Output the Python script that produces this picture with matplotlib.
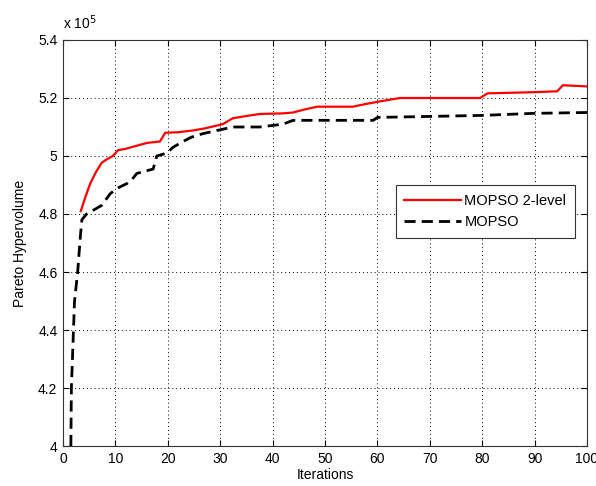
import matplotlib.pyplot as plt
from matplotlib.ticker import FuncFormatter

plt.rcParams['font.family'] = ['Liberation Sans', 'DejaVu Sans']

# MOPSO 2-level (values in units of 1e5)
iter_2level = [3.4, 4.3, 5.2, 6.3, 7.4, 8.5, 9.5, 10.0, 10.5, 12, 14, 16, 18.5, 19.5, 22, 24.8,
               27, 29.4, 30.5, 32.4, 35, 37.6, 42, 43.9, 46, 48.5, 55.3, 58, 61, 64.3,
               79.6, 81, 89.7, 94.3, 95.4, 100]
hv_2level = [4.81, 4.86, 4.905, 4.945, 4.977, 4.99, 5.0, 5.01, 5.02, 5.025, 5.035, 5.045, 5.05, 5.08, 5.082, 5.088,
             5.095, 5.105, 5.11, 5.13, 5.138, 5.145, 5.147, 5.15, 5.16, 5.17, 5.17, 5.18, 5.19, 5.2,
             5.2, 5.216, 5.22, 5.223, 5.244, 5.24]

# MOPSO
iter_mopso = [1.5, 1.6, 2.0, 2.2, 2.8, 3.3, 3.6, 4.5, 5.5, 7.4, 8.2, 9.0, 10.5, 12.2, 13.2, 14.1, 17.2,
              17.9, 19.8, 21, 22.9, 24.5, 26.7, 29.4, 32.4, 37.6, 42, 43.9, 59.2, 60, 80, 89.7, 100]
hv_mopso = [4.0, 4.2, 4.4, 4.5, 4.6, 4.72, 4.78, 4.8, 4.81, 4.83, 4.85, 4.87, 4.89, 4.905, 4.92, 4.94, 4.955,
            5.0, 5.01, 5.03, 5.05, 5.065, 5.077, 5.088, 5.1, 5.1, 5.11, 5.123, 5.123, 5.133, 5.14, 5.147, 5.15]

x_ticks = list(range(0, 101, 10))
y_ticks = [4.0, 4.2, 4.4, 4.6, 4.8, 5.0, 5.2, 5.4]

scale = 1e5

fig = plt.figure(figsize=(5.96, 4.86), dpi=100)
ax = fig.add_axes([0.1057, 0.0823, 0.8792, 0.8354])

ax.plot(iter_2level, [v * scale for v in hv_2level], color='red', lw=1.6, label='MOPSO 2-level')
ax.plot(iter_mopso, [v * scale for v in hv_mopso], color='black', lw=2.0, ls=(0, (4, 2.2)), label='MOPSO')

ax.set_xlim(0, 100)
ax.set_ylim(4.0 * scale, 5.4 * scale)
ax.set_xticks(x_ticks)
ax.set_yticks([t * scale for t in y_ticks])
ax.yaxis.set_major_formatter(FuncFormatter(lambda v, p: '%g' % (v / scale)))

ax.grid(True, color='black', ls=(0, (1, 3)), lw=0.7)
ax.tick_params(direction='in', top=True, right=True, labelsize=10, length=4, width=0.8, pad=4)
for s in ax.spines.values():
    s.set_linewidth(0.8)
    s.set_color('#333333')

ax.text(0.0, 1.02, r'x 10$^5$', transform=ax.transAxes, fontsize=10, va='bottom', ha='left')
ax.set_xlabel('Iterations', fontsize=10, labelpad=2)
ax.set_ylabel('Pareto Hypervolume', fontsize=10, labelpad=8)

leg = ax.legend(loc='upper left', bbox_to_anchor=(0.635, 0.643), fontsize=10.5, fancybox=False,
                framealpha=1, edgecolor='#333333', handlelength=3.9, borderpad=0.6, labelspacing=0.5,
                handletextpad=0.2, borderaxespad=0)
leg.get_frame().set_linewidth(0.8)

fig.savefig('out.png', dpi=100)
